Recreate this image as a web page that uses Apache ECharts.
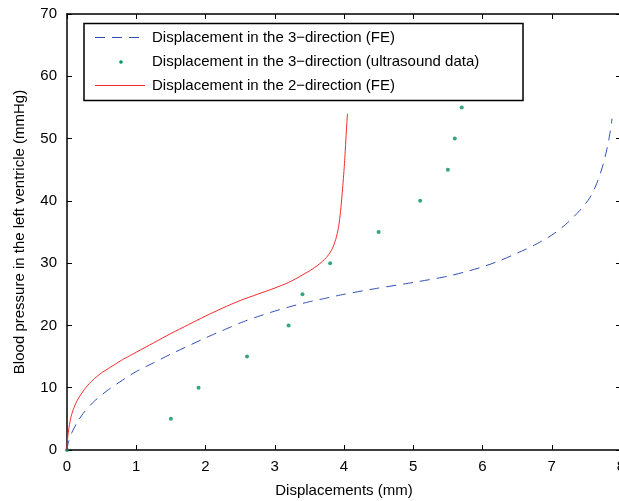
<!DOCTYPE html>
<html><head><meta charset="utf-8">
<script src="https://cdn.jsdelivr.net/npm/echarts@6/dist/echarts.min.js"></script>
<style>html,body{margin:0;padding:0;background:#fff}#c{width:619px;height:501px}</style>
</head><body><div id="c"></div>
<script>
var seriesNames = ['Displacement in the 3\u2212direction (FE)', 'Displacement in the 3\u2212direction (ultrasound data)', 'Displacement in the 2\u2212direction (FE)'];
var xTicks = [0,1,2,3,4,5,6,7,8];
var yTicks = [0,10,20,30,40,50,60,70];
var fe3 = [[0,0],[0.02,1.2],[0.07,2.8],[0.15,4.5],[0.25,6.1],[0.4,7.9],[0.6,9.7],[0.8,11.2],[1.0,12.6],[1.25,14.0],[1.5,15.4],[1.75,16.7],[2.0,18.0],[2.25,19.2],[2.5,20.4],[2.75,21.4],[3.0,22.3],[3.25,23.1],[3.5,23.8],[3.75,24.4],[4.0,25.0],[4.5,26.0],[5.0,26.9],[5.5,27.9],[5.75,28.6],[6.0,29.4],[6.25,30.4],[6.5,31.6],[6.75,32.9],[7.0,34.5],[7.2,36.2],[7.4,38.4],[7.55,40.5],[7.65,42.8],[7.73,45.4],[7.79,48.0],[7.84,50.8],[7.87,53.2]];
var ultrasound = [[0,0],[1.5,5],[1.9,10],[2.6,15],[3.2,20],[3.4,25],[3.8,30],[4.5,35],[5.1,40],[5.5,45],[5.6,50],[5.7,55]];
var fe2 = [[0,0],[0.01,2.0],[0.03,3.7],[0.06,5.4],[0.1,6.8],[0.15,8.0],[0.2,8.9],[0.25,9.7],[0.3,10.4],[0.4,11.5],[0.5,12.4],[0.6,13.1],[0.7,13.8],[0.8,14.5],[0.9,15.1],[1.0,15.7],[1.25,17.2],[1.5,18.7],[1.75,20.1],[2.0,21.5],[2.25,22.8],[2.5,24.0],[2.75,25.0],[3.0,26.0],[3.2,26.9],[3.4,28.1],[3.55,29.1],[3.67,30.1],[3.76,31.1],[3.83,32.3],[3.88,33.8],[3.92,35.7],[3.95,38.3],[3.98,42],[4.01,46.5],[4.03,50.5],[4.05,54]];

var FONT = 'Liberation Sans, Arial, sans-serif';
var chart = echarts.init(document.getElementById('c'));
var axisCommon = {
  type: 'value', min: 0,
  axisLine: {show: true, onZero: false, lineStyle: {color: '#000', width: 1.5}},
  axisTick: {show: true, inside: true, length: 5, lineStyle: {color: '#000', width: 1}},
  splitLine: {show: false}
};
var C_BLUE = '#2f4fb5', C_GREEN = '#00915a', C_RED = '#f22a2a';
chart.setOption({
  animation: false,
  grid: {left: 67, top: 14, right: -2, bottom: 51, outerBoundsMode: 'none', containLabel: false},
  xAxis: [
    Object.assign({}, axisCommon, {max: 8, interval: 1, position: 'bottom',
      axisLabel: {color: '#000', fontSize: 15, fontFamily: FONT, margin: 9},
      name: 'Displacements (mm)', nameLocation: 'middle', nameGap: 33,
      nameTextStyle: {color: '#000', fontSize: 15, fontFamily: FONT}}),
    Object.assign({}, axisCommon, {max: 8, interval: 1, position: 'top', axisLabel: {show: false}})
  ],
  yAxis: [
    Object.assign({}, axisCommon, {max: 70, interval: 10, position: 'left',
      axisLabel: {color: '#000', fontSize: 15, fontFamily: FONT, margin: 10},
      name: 'Blood pressure in the left ventricle (mmHg)', nameLocation: 'middle', nameGap: 40,
      nameTextStyle: {color: '#000', fontSize: 15, fontFamily: FONT}}),
    Object.assign({}, axisCommon, {max: 70, interval: 10, position: 'right', axisLabel: {show: false}})
  ],
  series: [
    {name: seriesNames[0], type: 'line', data: fe3, smooth: 0.25, showSymbol: false,
     lineStyle: {color: C_BLUE, width: 1, type: [10, 7]}},
    {name: seriesNames[1], type: 'scatter', data: ultrasound, symbolSize: 4,
     itemStyle: {color: C_GREEN}},
    {name: seriesNames[2], type: 'line', data: fe2, smooth: 0.25, showSymbol: false,
     lineStyle: {color: C_RED, width: 1}}
  ],
  graphic: [
    {type: 'rect', shape: {x: 84, y: 23.5, width: 439, height: 77}, z: 100,
     style: {fill: '#fff', stroke: '#000', lineWidth: 1.5}},
    {type: 'line', shape: {x1: 95, y1: 37.5, x2: 145, y2: 37.5}, z: 101,
     style: {stroke: C_BLUE, lineWidth: 1, lineDash: [10, 7]}},
    {type: 'circle', shape: {cx: 121, cy: 62, r: 1.8}, z: 101, style: {fill: C_GREEN}},
    {type: 'line', shape: {x1: 95, y1: 85.5, x2: 145, y2: 85.5}, z: 101,
     style: {stroke: C_RED, lineWidth: 1}},
    {type: 'text', x: 152, y: 37.5, z: 101, style: {text: seriesNames[0], fill: '#000', font: '15px ' + FONT, textVerticalAlign: 'middle', verticalAlign: 'middle'}},
    {type: 'text', x: 152, y: 62, z: 101, style: {text: seriesNames[1], fill: '#000', font: '15px ' + FONT, textVerticalAlign: 'middle', verticalAlign: 'middle'}},
    {type: 'text', x: 152, y: 85.5, z: 101, style: {text: seriesNames[2], fill: '#000', font: '15px ' + FONT, textVerticalAlign: 'middle', verticalAlign: 'middle'}}
  ]
});
</script></body></html>
